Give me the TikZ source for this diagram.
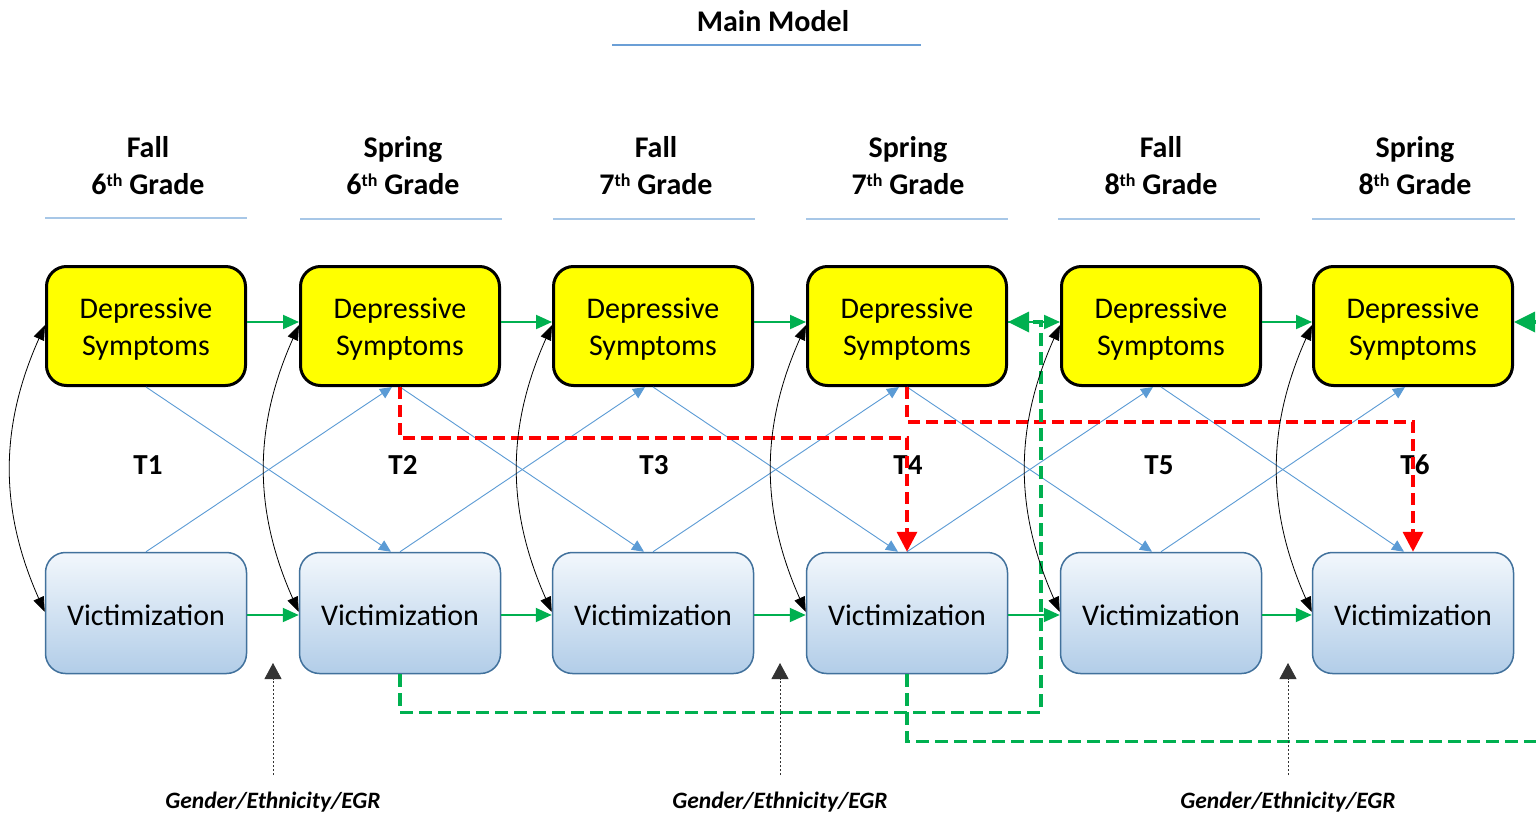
\documentclass[tikz,border=0pt]{standalone}
\usepackage{fontspec}
\setmainfont{Carlito}
\usetikzlibrary{arrows.meta,calc}
\definecolor{gline}{HTML}{00B050}
\definecolor{bline}{HTML}{5B9BD5}
\definecolor{vborder}{HTML}{41719C}
\definecolor{vtop}{HTML}{F2F7FC}
\definecolor{vbot}{HTML}{B2CDE8}
\definecolor{hrule}{HTML}{A7C7E7}
\definecolor{trule}{HTML}{6B9FD6}
\definecolor{redd}{HTML}{FF0000}
\definecolor{dsyellow}{HTML}{FFFF00}
\newcommand\supth[1]{\raisebox{8pt}{\fontsize{18}{18}\selectfont #1}}
\begin{document}
\begin{tikzpicture}[x=1pt,y=-1pt,
  dsbox/.style={draw=black, line width=3pt, fill=dsyellow, rounded corners=20pt,
    minimum width=199pt, minimum height=119pt, inner sep=0pt},
  vicbox/.style={draw=vborder, line width=1.5pt, top color=vtop, bottom color=vbot,
    rounded corners=20pt, minimum width=201pt, minimum height=121pt, inner sep=0pt},
  boxtext/.style={align=center, font=\fontsize{30}{37}\selectfont, inner sep=0pt},
  header/.style={align=center, font=\bfseries\fontsize{30}{37}\selectfont},
  tlabel/.style={font=\bfseries\fontsize{29}{35}\selectfont},
  covlabel/.style={font=\bfseries\itshape\fontsize{23.5}{28}\selectfont},
  hline/.style={draw=hrule, line width=1.5pt},
  garrow/.style={draw=gline, line width=2pt, -{Triangle[length=16pt,width=14pt]}},
  barrow/.style={draw=bline, line width=0.9pt, -{Triangle[length=12pt,width=11pt]}},
  curvarrow/.style={draw=black, line width=0.8pt, {Triangle[length=15pt,width=11pt]}-{Triangle[length=15pt,width=11pt]}, bend right=24},
  reddash/.style={draw=redd, line width=3.5pt, dash pattern=on 12pt off 6pt, -{Triangle[length=20pt,width=20pt]}},
  greendash/.style={draw=gline, line width=3.5pt, dash pattern=on 13pt off 6pt, -{Triangle[length=21pt,width=20pt]}},
  covarrow/.style={draw=black!80, line width=0.8pt, dash pattern=on 2pt off 2pt, -{Triangle[length=16pt,width=17pt]}}
]
\clip (0,0) rectangle (1536,816);
\fill[white] (0,0) rectangle (1536,816);

% title
\node[header] (title) at (773,21) {Main Model};
\draw[draw=trule, line width=1.3pt] (612,45) -- (921,45);

% headers
\node[header] (h1) at (148,166) {Fall\\6\supth{th} Grade};
\node[header] (h2) at (403,166) {Spring\\6\supth{th} Grade};
\node[header] (h3) at (656,166) {Fall\\7\supth{th} Grade};
\node[header] (h4) at (908,166) {Spring\\7\supth{th} Grade};
\node[header] (h5) at (1161,166) {Fall\\8\supth{th} Grade};
\node[header] (h6) at (1415,166) {Spring\\8\supth{th} Grade};
\draw[hline] (45,218) -- (247,218);
\draw[hline] (300,219) -- (502,219);
\draw[hline] (553,219) -- (755,219);
\draw[hline] (806,219) -- (1008,219);
\draw[hline] (1058,219) -- (1260,219);
\draw[hline] (1312,219) -- (1515,219);

% T labels
\node[tlabel] (t1) at (148,465) {T1};
\node[tlabel] (t2) at (403,465) {T2};
\node[tlabel] (t3) at (654,465) {T3};
\node[tlabel] (t4) at (908,465) {T4};
\node[tlabel] (t5) at (1159,465) {T5};
\node[tlabel] (t6) at (1415,465) {T6};

% boxes
\foreach \i/\x in {1/146,2/400,3/653,4/907,5/1161,6/1413}{
  \node[dsbox] (d\i) at (\x,326) {};
  \node[boxtext] (dt\i) at (\x,329) {Depressive\\Symptoms};
  \node[vicbox] (v\i) at (\x,613) {};
  \node[boxtext] (vt\i) at (\x,615) {Victimization};
}

% cross-lagged blue
\foreach \i/\j in {1/2,2/3,3/4,4/5,5/6}{
  \draw[barrow] (d\i.south) -- ($(v\j.north)+(-9,0)$);
  \draw[barrow] (v\i.north) -- ($(d\j.south)+(-8,0)$);
}

% autoregressive green
\foreach \i/\j in {1/2,2/3,3/4,4/5,5/6}{
  \draw[garrow] ($(d\i.east)+(0,-4)$) -- ($(d\j.west)+(0,-4)$);
  \draw[garrow] ($(v\i.east)+(0,2)$) -- ($(v\j.west)+(0,2)$);
}

% red dashed
\draw[reddash] (d2.south) -- ++(0,51) -| (v4.north);
\draw[reddash] (d4.south) -- ++(0,35) -| (v6.north);

% green dashed
\draw[greendash] (v2.south) -- ++(0,38) -| ($(d4.east)+(33,-4)$) -- ($(d4.east)+(0,-4)$);
\coordinate (offR) at (1552,322);
\draw[greendash] (v4.south) -- ++(0,67) -| (offR) -- ($(d6.east)+(0,-4)$);

% covariances
\foreach \i in {1,...,6}{
  \draw[curvarrow] ($(d\i.west)+(0,-1)$) to ($(v\i.west)+(0,-1)$);
}

% covariates
\foreach \k/\x in {1/273,2/780,3/1288}{
  \node[covlabel] (g\k) at (\x,802) {Gender/Ethnicity/EGR};
  \coordinate (gs\k) at (\x,775);
  \coordinate (ge\k) at (\x,663);
  \draw[covarrow] (gs\k) -- (ge\k);
}
\end{tikzpicture}
\end{document}
